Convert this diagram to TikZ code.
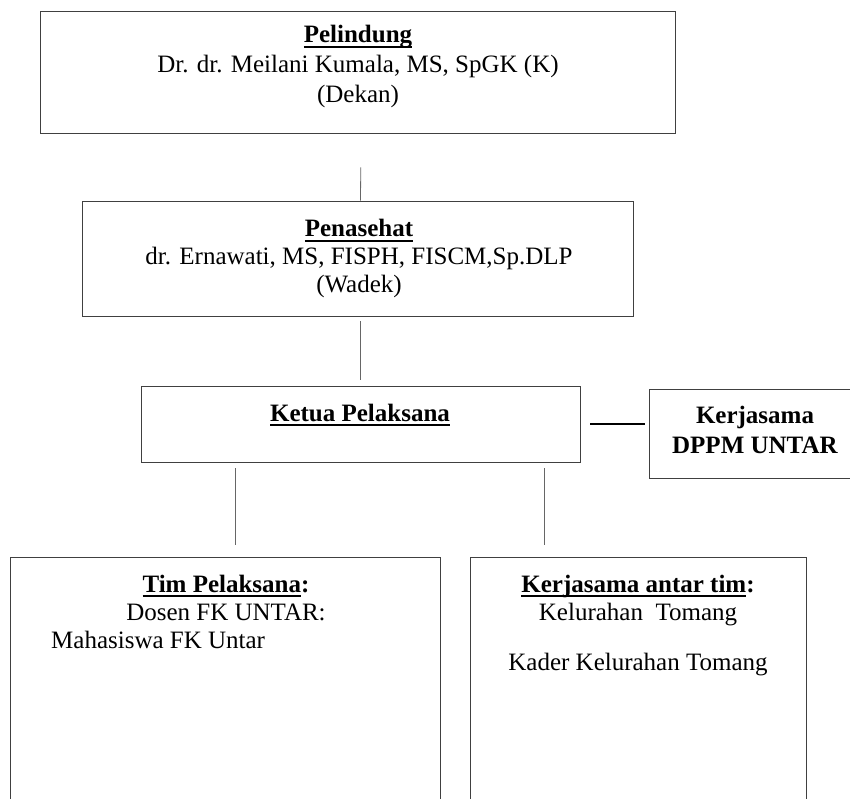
\documentclass[tikz,border=0pt]{standalone}
\usepackage{fontspec}
\setmainfont{Liberation Serif}
\usepackage{tikz}
\usetikzlibrary{positioning,calc}
\newcommand{\judul}[1]{\textbf{\setbox0\hbox{#1}\rlap{\rule[-4.6pt]{\wd0}{1.3pt}}\box0}}

\begin{document}
\begin{tikzpicture}[x=1pt, y=-1pt,
    box/.style={rectangle, draw=black!75, line width=0.9pt, inner sep=0pt},
    teks/.style={font=\fontsize{25}{30}\selectfont, align=center, inner sep=0pt, anchor=base},
    garis/.style={draw=black!60, line width=0.8pt}
]
\useasboundingbox (0,0) rectangle (850,799);
\clip (0,0) rectangle (850,799);

% Kotak struktur
\node[box, minimum width=635pt, minimum height=122pt] (pelindung) at (358,72) {};
\node[box, minimum width=551pt, minimum height=115pt] (penasehat) at (357.5,258.5) {};
\node[box, minimum width=439pt, minimum height=76pt] (ketua) at (360.5,424) {};
\node[box, minimum width=213pt, minimum height=89pt] (dppm) at (755.5,433.5) {};
\node[box, minimum width=430pt, minimum height=343pt] (tim) at (225,728.5) {};
\node[box, minimum width=336pt, minimum height=343pt] (antar) at (638,728.5) {};

% Isi teks (base = baris terakhir)
\node[teks] (pelindungtxt) at (358,103) {\judul{Pelindung}\\Dr. dr. Meilani Kumala, MS, SpGK (K)\\(Dekan)};
\node[teks, font=\fontsize{25}{27.5}\selectfont] (penasehattxt) at (359,292) {\judul{Penasehat}\\dr. Ernawati, MS, FISPH, FISCM,Sp.DLP\\(Wadek)};
\node[teks] (ketuatxt) at (360,421) {\judul{Ketua Pelaksana}};
\node[teks] (dppmtxt) at (755,453) {\textbf{Kerjasama}\\\textbf{DPPM UNTAR}};
\node[teks, font=\fontsize{25}{28}\selectfont] (timtxt) at (226,620) {\judul{Tim Pelaksana}\textbf{:}\\Dosen FK UNTAR:};
\node[teks, anchor=base west] (mhstxt) at (51,648) {Mahasiswa FK Untar};
\node[teks, font=\fontsize{25}{28}\selectfont] (antartxt) at (638,670) {\judul{Kerjasama antar tim}\textbf{:}\\Kelurahan~~Tomang\\[22pt]Kader Kelurahan Tomang};

% Garis penghubung
\draw[garis, shorten <=34pt] ([xshift=3pt]pelindung.south) -- ([xshift=3pt]penasehat.north);
\draw[garis, shorten <=5pt, shorten >=6pt] (ketua.north |- penasehat.south) -- (ketua.north);
\draw[garis, shorten <=6pt, shorten >=12pt] ([xshift=95pt]ketua.south west) -- ([xshift=95pt]ketua.south west |- tim.north);
\draw[garis, shorten <=6pt, shorten >=12pt] ([xshift=-36pt]ketua.south east) -- ([xshift=-36pt]ketua.south east |- antar.north);
\draw[line width=2.6pt, shorten <=10pt, shorten >=4pt] (ketua.east) -- (ketua.east -| dppm.west);

\end{tikzpicture}
\end{document}
